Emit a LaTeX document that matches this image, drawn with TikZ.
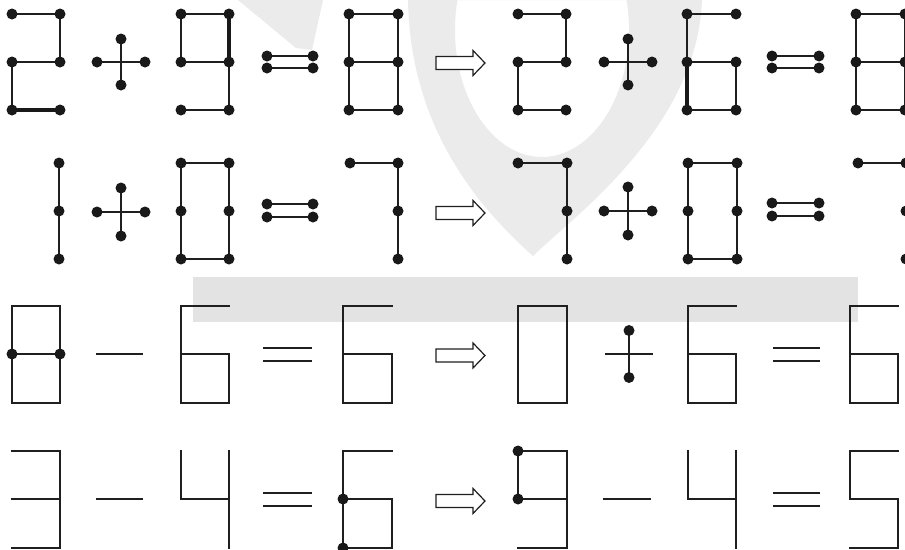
\documentclass[tikz,border=0pt]{standalone}
\usetikzlibrary{calc}
\tikzset{
  stick/.style={line width=2pt, draw=black!88, line cap=rect, line join=miter},
  heavy/.style={line width=4.3pt, draw=black!90, line cap=round},
  wmband/.style={fill=black!11},
  wmring/.style={fill=black!8},
  arrowbox/.style={line width=1.2pt, draw=black!88, fill=white, line join=miter},
}
% digit corner coordinates: name, x-left, x-right, y-top, y-mid, y-bottom
\newcommand\mkdigit[6]{%
  \coordinate (#1a) at (#2,#4); \coordinate (#1b) at (#3,#4);
  \coordinate (#1c) at (#2,#5); \coordinate (#1d) at (#3,#5);
  \coordinate (#1e) at (#2,#6); \coordinate (#1f) at (#3,#6);}
\newcommand\putdots[1]{\foreach \p in {#1} {\fill[black!90] (\p) circle (5.5pt);}}
% plus sign with dots: name, cx, cy, half-width, half-height
\newcommand\mkplus[5]{%
  \coordinate (#1l) at ($(#2,#3)+(-#4,0)$); \coordinate (#1r) at ($(#2,#3)+(#4,0)$);
  \coordinate (#1t) at ($(#2,#3)+(0,-#5)$); \coordinate (#1u) at ($(#2,#3)+(0,#5)$);}
% equals: name, x1, x2, y1, y2
\newcommand\mkeq[5]{%
  \coordinate (#1a) at (#2,#4); \coordinate (#1b) at (#3,#4);
  \coordinate (#1c) at (#2,#5); \coordinate (#1d) at (#3,#5);}
% hollow arrow: name, y-centre
\newcommand\mkarrow[2]{%
  \coordinate (#1s) at (436,#2); \coordinate (#1e) at (485,#2);
  \draw[arrowbox] ($(#1s)+(0,-6.5)$) -- ($(#1s)+(37,-6.5)$) -- ($(#1s)+(37,-12.5)$) -- (#1e)
     -- ($(#1s)+(37,12.5)$) -- ($(#1s)+(37,6.5)$) -- ($(#1s)+(0,6.5)$) -- cycle;}
\begin{document}
\begin{tikzpicture}[x=1pt,y=-1pt]
\useasboundingbox (0,0) rectangle (905,549);
\begin{scope}
\clip (0,0) rectangle (905,549);
% ---------- watermark ----------
\fill[wmring] (238,0) -- (323,0) -- (312,50) -- (296,48) -- cycle;
\fill[wmring, even odd rule]
   (408,0) .. controls (410,120) and (470,200) .. (533,256)
   .. controls (560,230) and (600,200) .. (640,150)
   .. controls (680,100) and (700,50) .. (702,0) -- cycle
   (542,30) ellipse (87pt and 127pt);
\fill[wmband] (193,277) rectangle (858,322);
\end{scope}

% ================= ROW 1 =================
\mkdigit{A}{12}{60}{14}{62}{110}
\draw[stick] (Aa) -- (Ab) -- (Ad) -- (Ac) -- (Ae);
\draw[heavy] (Ae) -- (Af);
\putdots{Aa,Ab,Ac,Ad,Ae,Af}
\mkplus{P}{121}{62}{24}{23}
\draw[stick,line cap=butt] (Pl) -- (Pr) (Pt) -- (Pu);
\putdots{Pl,Pr,Pt,Pu}
\mkdigit{B}{181}{229}{14}{62}{110}
\draw[stick] (Bb) -- (Ba) -- (Bc) -- (Bd) -- (Bf) -- (Be);
\draw[heavy] (Bb) -- (Bd);
\putdots{Ba,Bb,Bc,Bd,Be,Bf}
\mkeq{Q}{267}{313}{56}{68}
\draw[stick,line cap=butt] (Qa) -- (Qb) (Qc) -- (Qd);
\putdots{Qa,Qb,Qc,Qd}
\mkdigit{C}{349}{398}{14}{62}{110}
\draw[stick] (Ca) -- (Cb) -- (Cf) -- (Ce) -- cycle (Cc) -- (Cd);
\putdots{Ca,Cb,Cc,Cd,Ce,Cf}
\mkarrow{R}{63}
\mkdigit{D}{518}{566}{14}{62}{110}
\draw[stick] (Da) -- (Db) -- (Dd) -- (Dc) -- (De) -- (Df);
\putdots{Da,Db,Dc,Dd,De,Df}
\mkplus{S}{628}{62}{24}{23}
\draw[stick,line cap=butt] (Sl) -- (Sr) (St) -- (Su);
\putdots{Sl,Sr,St,Su}
\mkdigit{E}{687}{736}{14}{62}{110}
\draw[stick] (Eb) -- (Ea) -- (Ec) -- (Ed) -- (Ef) -- (Ee);
\draw[heavy] (Ec) -- (Ee);
\putdots{Ea,Eb,Ec,Ed,Ee,Ef}
\mkeq{T}{772}{819}{56}{68}
\draw[stick,line cap=butt] (Ta) -- (Tb) (Tc) -- (Td);
\putdots{Ta,Tb,Tc,Td}
\mkdigit{F}{856}{905}{14}{62}{110}
\draw[stick] (Fa) -- (Fb) -- (Ff) -- (Fe) -- cycle (Fc) -- (Fd);
\putdots{Fa,Fb,Fc,Fd,Fe,Ff}

% ================= ROW 2 =================
\mkdigit{G}{11}{59}{163}{211}{259}
\draw[stick] (Gb) -- (Gf);
\putdots{Gb,Gd,Gf}
\mkplus{U}{121}{212}{24}{24}
\draw[stick,line cap=butt] (Ul) -- (Ur) (Ut) -- (Uu);
\putdots{Ul,Ur,Ut,Uu}
\mkdigit{H}{181}{229}{163}{211}{259}
\draw[stick] (Ha) -- (Hb) -- (Hf) -- (He) -- cycle;
\putdots{Ha,Hb,Hc,Hd,He,Hf}
\mkeq{V}{267}{313}{204}{217}
\draw[stick,line cap=butt] (Va) -- (Vb) (Vc) -- (Vd);
\putdots{Va,Vb,Vc,Vd}
\mkdigit{I}{350}{398}{163}{211}{259}
\draw[stick] (Ia) -- (Ib) -- (If);
\putdots{Ia,Ib,Id,If}
\mkarrow{W}{213}
\mkdigit{J}{518}{567}{163}{211}{259}
\draw[stick] (Ja) -- (Jb) -- (Jf);
\putdots{Ja,Jb,Jd,Jf}
\mkplus{X}{628}{211}{24}{24}
\draw[stick,line cap=butt] (Xl) -- (Xr) (Xt) -- (Xu);
\putdots{Xl,Xr,Xt,Xu}
\mkdigit{K}{688}{737}{163}{211}{259}
\draw[stick] (Ka) -- (Kb) -- (Kf) -- (Ke) -- cycle;
\putdots{Ka,Kb,Kc,Kd,Ke,Kf}
\mkeq{Y}{772}{819}{203}{216}
\draw[stick,line cap=butt] (Ya) -- (Yb) (Yc) -- (Yd);
\putdots{Ya,Yb,Yc,Yd}
\mkdigit{L}{858}{906}{163}{211}{259}
\draw[stick] (La) -- (Lb) -- (Lf);
\putdots{La,Lb,Ld,Lf}

% ================= ROW 3 =================
\mkdigit{M}{12}{60}{306}{354}{403}
\draw[stick] (Ma) -- (Mb) -- (Mf) -- (Me) -- cycle (Mc) -- (Md);
\putdots{Mc,Md}
\coordinate (m1a) at (96,354); \coordinate (m1b) at (143,354);
\draw[stick,line cap=butt] (m1a) -- (m1b);
\mkdigit{N}{181}{229}{306}{354}{403}
\draw[stick] (Nb) -- (Na) -- (Ne) -- (Nf) -- (Nd) -- (Nc);
\mkeq{Z}{263}{312}{348}{361}
\draw[stick,line cap=butt] (Za) -- (Zb) (Zc) -- (Zd);
\mkdigit{O}{343}{392}{306}{354}{403}
\draw[stick] (Ob) -- (Oa) -- (Oe) -- (Of) -- (Od) -- (Oc);
\mkarrow{AR}{355.5}
\mkdigit{Qd}{518}{567}{306}{354}{403}
\draw[stick] (Qda) -- (Qdb) -- (Qdf) -- (Qde) -- cycle;
\mkplus{PP}{629}{354}{24}{23.5}
\draw[stick,line cap=butt] (PPl) -- (PPr) (PPt) -- (PPu);
\putdots{PPt,PPu}
\mkdigit{Rd}{688}{736}{306}{354}{403}
\draw[stick] (Rdb) -- (Rda) -- (Rde) -- (Rdf) -- (Rdd) -- (Rdc);
\mkeq{EQc}{773}{820}{348}{361}
\draw[stick,line cap=butt] (EQca) -- (EQcb) (EQcc) -- (EQcd);
\mkdigit{Sd}{850}{898}{306}{354}{403}
\draw[stick] (Sdb) -- (Sda) -- (Sde) -- (Sdf) -- (Sdd) -- (Sdc);

% ================= ROW 4 =================
\mkdigit{Td}{12}{60}{451}{499}{548}
\draw[stick] (Tda) -- (Tdb) -- (Tdf) -- (Tde) (Tdc) -- (Tdd);
\coordinate (m2a) at (96,499); \coordinate (m2b) at (143,499);
\draw[stick,line cap=butt] (m2a) -- (m2b);
\mkdigit{Ud}{181}{229}{451}{499}{548}
\draw[stick] (Uda) -- (Udc) -- (Udd) (Udb) -- (Udf);
\mkeq{EQd}{263}{312}{493}{506}
\draw[stick,line cap=butt] (EQda) -- (EQdb) (EQdc) -- (EQdd);
\mkdigit{Vd}{343}{392}{451}{499}{548}
\draw[stick] (Vdb) -- (Vda) -- (Vde) -- (Vdf) -- (Vdd) -- (Vdc);
\putdots{Vdc,Vde}
\mkarrow{AS}{501}
\mkdigit{Wd}{518}{567}{451}{499}{548}
\draw[stick] (Wdc) -- (Wda) -- (Wdb) -- (Wdf) -- (Wde) (Wdc) -- (Wdd);
\putdots{Wda,Wdc}
\coordinate (m3a) at (603,499); \coordinate (m3b) at (651,499);
\draw[stick,line cap=butt] (m3a) -- (m3b);
\mkdigit{Xd}{688}{736}{451}{499}{548}
\draw[stick] (Xda) -- (Xdc) -- (Xdd) (Xdb) -- (Xdf);
\mkeq{EQe}{773}{820}{493}{506}
\draw[stick,line cap=butt] (EQea) -- (EQeb) (EQec) -- (EQed);
\mkdigit{Yd}{850}{898}{451}{499}{548}
\draw[stick] (Ydb) -- (Yda) -- (Ydc) -- (Ydd) -- (Ydf) -- (Yde);
\end{tikzpicture}
\end{document}
